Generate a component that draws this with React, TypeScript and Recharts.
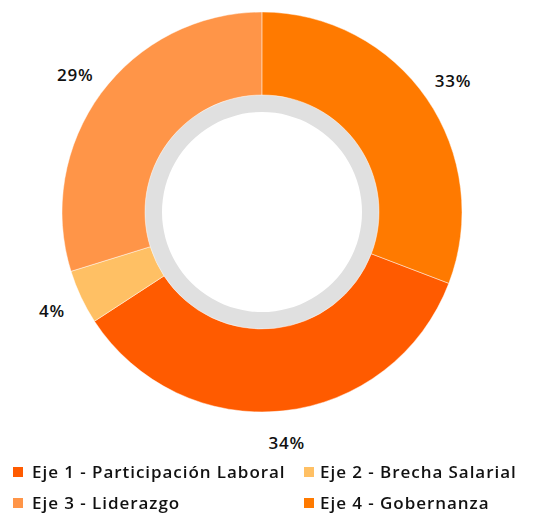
import React from "react";
import { Cell, Legend, Pie, PieChart } from "recharts";

const EJES = ["Eje 1 - Participación Laboral", "Eje 2 - Brecha Salarial", "Eje 3 - Liderazgo", "Eje 4 - Gobernanza"];
const SHARES = [35.0, 4.4, 29.8, 30.8];
const LABELS = ["34%", "4%", "29%", "33%"];
const COLORS = ["#FF5B00", "#FFC064", "#FF9548", "#FF7A00"];
const RING = [1];

const FONT = "'Open Sans', 'DejaVu Sans', sans-serif";

const data = EJES.map((name, i) => ({ name, value: SHARES[i], label: LABELS[i] }));

const RADIAN = Math.PI / 180;

function renderLabel(props: any) {
  const { cx, cy, midAngle, outerRadius, index } = props;
  const r = outerRadius + 32;
  const x = cx + r * Math.cos(-midAngle * RADIAN);
  const y = cy + r * Math.sin(-midAngle * RADIAN);
  return (
    <text
      x={x}
      y={y}
      textAnchor="middle"
      dominantBaseline="central"
      fill="#111"
      fontSize={17}
      fontWeight={600}
      letterSpacing={0.8}
      fontFamily={FONT}
    >
      {data[index].label}
    </text>
  );
}

function LegendGrid() {
  return (
    <div style={{ display: "grid", gridTemplateColumns: "291px 239px", rowGap: 11, fontFamily: FONT }}>
      {data.map((d, i) => (
        <div key={d.name} style={{ display: "flex", alignItems: "center", height: 20 }}>
          <span style={{ width: 10, height: 10, background: COLORS[i], marginRight: i % 2 ? 6 : 9, flexShrink: 0 }} />
          <span
            style={{
              fontSize: 17,
              lineHeight: "20px",
              fontWeight: 600,
              letterSpacing: 0.95,
              color: "#111",
              whiteSpace: "nowrap",
            }}
          >
            {d.name}
          </span>
        </div>
      ))}
    </div>
  );
}

export default function App() {
  return (
    <div style={{ position: "fixed", top: 0, left: 0, width: 543, height: 513, background: "#fff" }}>
      <PieChart width={543} height={513} margin={{ top: 0, right: 0, bottom: 0, left: 0 }}>
        <Pie
          data={RING.map((v) => ({ v }))}
          dataKey="v"
          cx={262}
          cy={212}
          innerRadius={100}
          outerRadius={117}
          stroke="none"
          fill="#E0E0E0"
          isAnimationActive={false}
        />
        <Pie
          data={data}
          dataKey="value"
          cx={262}
          cy={212}
          innerRadius={117}
          outerRadius={200}
          startAngle={-20.9}
          endAngle={-380.9}
          stroke="rgba(255,255,255,0.45)"
          strokeWidth={1}
          label={renderLabel}
          labelLine={false}
          isAnimationActive={false}
        >
          {data.map((d, i) => (
            <Cell key={d.name} fill={COLORS[i]} />
          ))}
        </Pie>
        <Legend
          layout="horizontal"
          verticalAlign="bottom"
          align="left"
          wrapperStyle={{ left: 13, bottom: "auto", top: 462, width: 530 }}
          content={() => <LegendGrid />}
        />
      </PieChart>
    </div>
  );
}
